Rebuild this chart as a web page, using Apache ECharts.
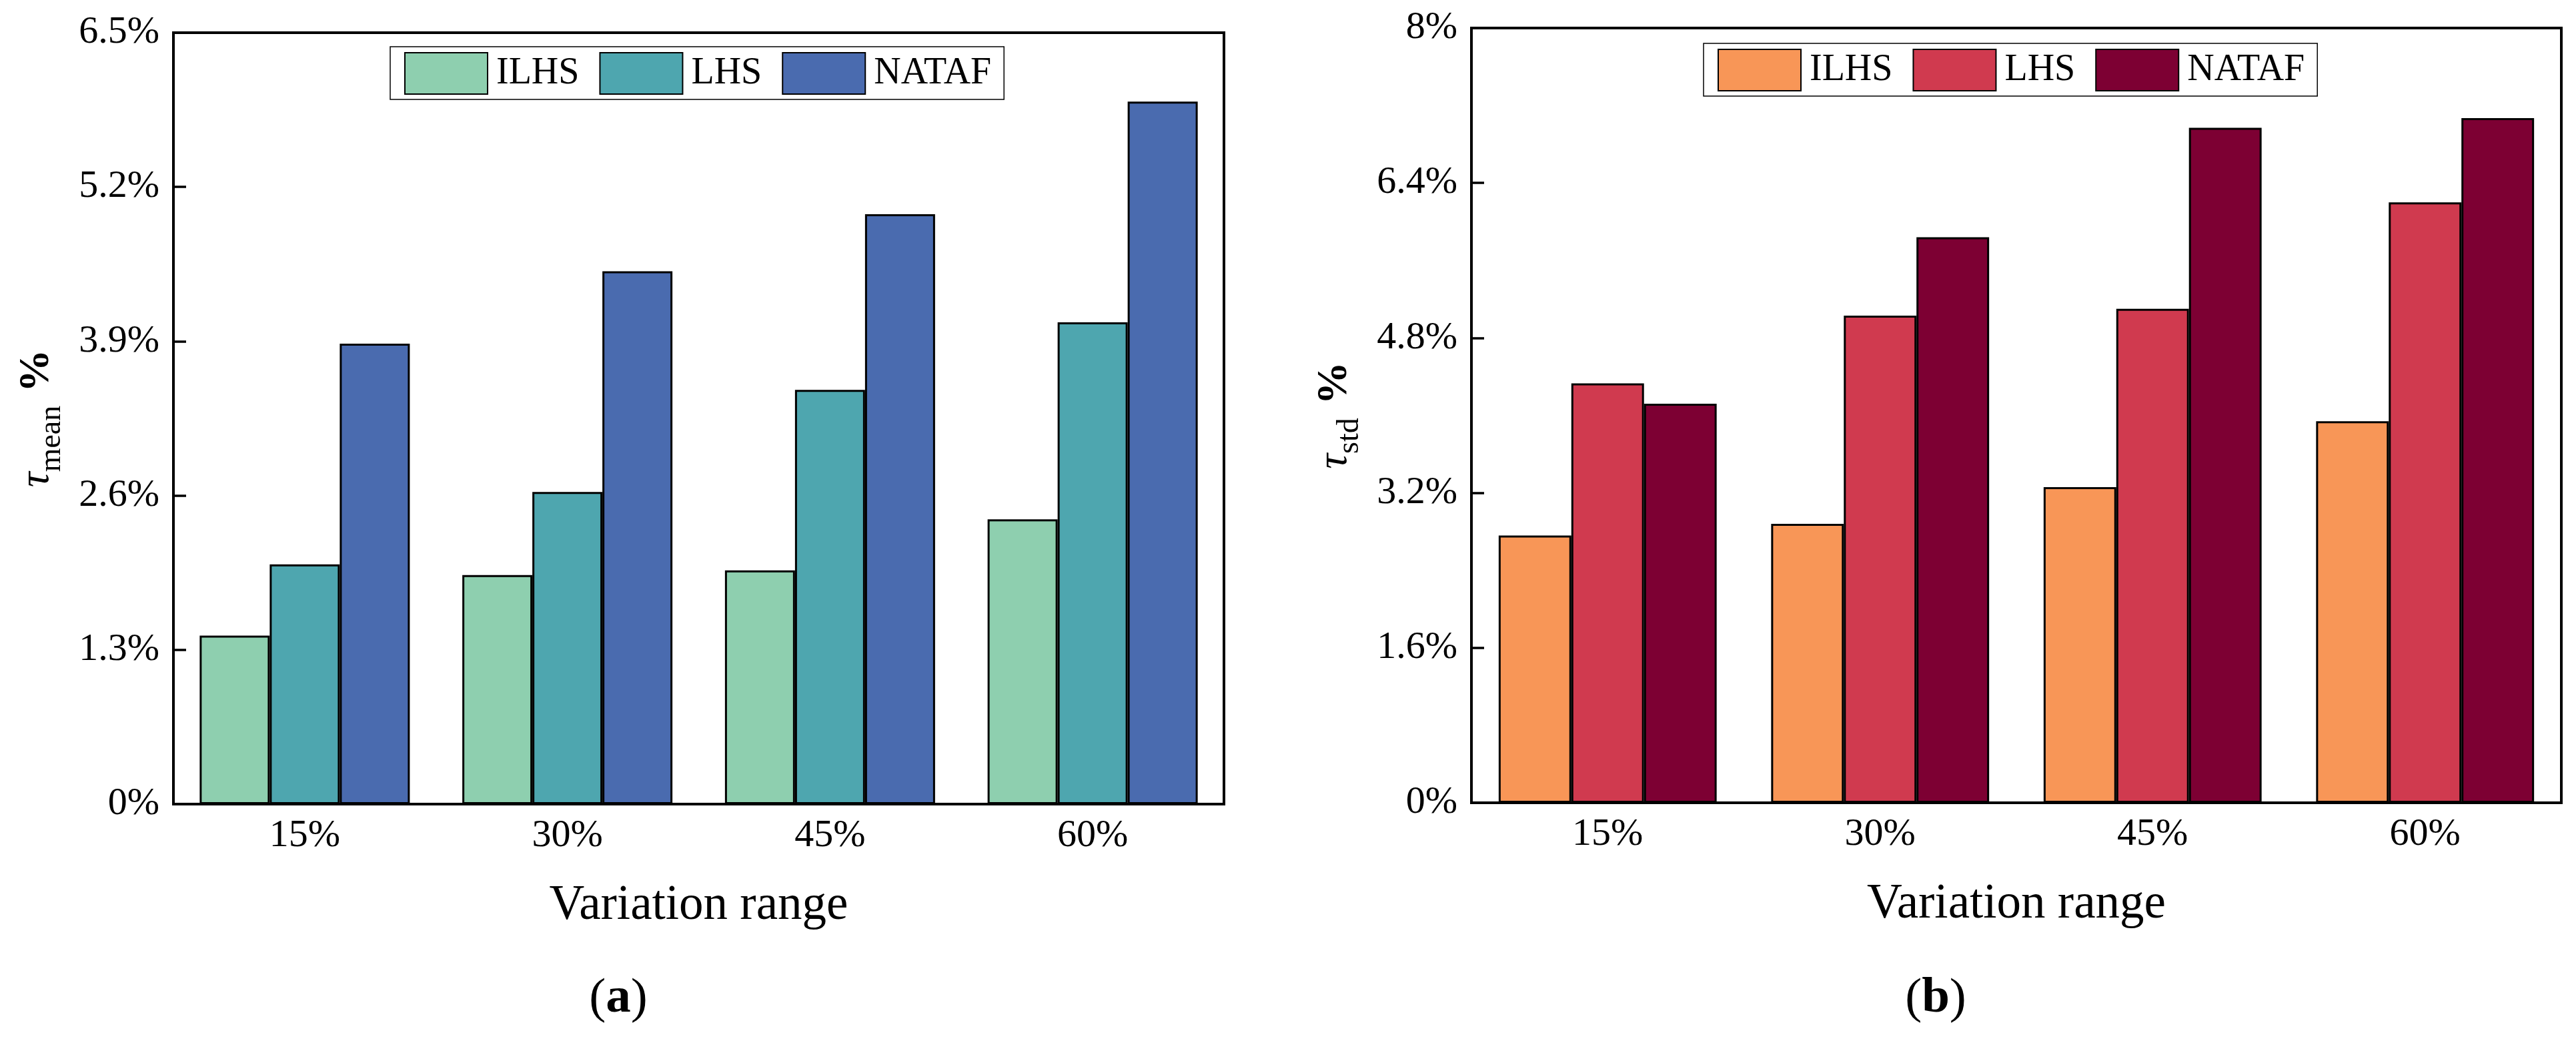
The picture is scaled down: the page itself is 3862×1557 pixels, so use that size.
<!DOCTYPE html>
<html>
<head>
<meta charset="utf-8">
<script src="https://cdn.jsdelivr.net/npm/echarts@6/dist/echarts.min.js"></script>
<style>
html,body{margin:0;padding:0;background:#fff;}
#main{width:3862px;height:1557px;}
</style>
</head>
<body>
<div id="main"></div>
<script>
const categories = ['15%', '30%', '45%', '60%'];
const seriesNames = ['ILHS', 'LHS', 'NATAF'];

// Panel (a): tau_mean (%)
const meanILHS  = [1.42, 1.93, 1.97, 2.40];
const meanLHS   = [2.02, 2.63, 3.49, 4.06];
const meanNATAF = [3.88, 4.49, 4.97, 5.92];
const ticksA = [0, 1.3, 2.6, 3.9, 5.2, 6.5];

// Panel (b): tau_std (%)
const stdILHS  = [2.76, 2.88, 3.26, 3.94];
const stdLHS   = [4.33, 5.03, 5.10, 6.20];
const stdNATAF = [4.12, 5.84, 6.97, 7.07];
const ticksB = [0, 1.6, 3.2, 4.8, 6.4, 8];

const colorsA = ['#8ECFAF', '#4EA6AF', '#4A6BAF'];
const colorsB = ['#F89657', '#D03A4F', '#7D0033'];

const FONT = '"Liberation Serif", "Times New Roman", serif';

function fmt(v) {
  const r = Math.round(v * 10) / 10;
  if (r === 0) return '0%';
  return (Number.isInteger(r) ? String(r) : r.toFixed(1)) + '%';
}

function makeSeries(prefix, arrays, colors, idx) {
  return arrays.map((arr, i) => ({
    name: prefix + '|' + seriesNames[i],
    type: 'bar',
    xAxisIndex: idx,
    yAxisIndex: idx,
    data: arr,
    barGap: '0%',
    barCategoryGap: '20%',
    itemStyle: { color: colors[i], borderColor: '#000', borderWidth: 3 },
    emphasis: { disabled: true }
  }));
}

function xAxisCfg(idx) {
  return {
    type: 'category',
    gridIndex: idx,
    data: categories,
    name: 'Variation range',
    nameLocation: 'middle',
    nameGap: 116,
    nameTextStyle: { fontFamily: FONT, fontSize: 73, color: '#000' },
    axisLine: { show: true, lineStyle: { color: '#000', width: 4 } },
    axisTick: { show: true, inside: true, alignWithLabel: true, length: 19, lineStyle: { color: '#000', width: 2.5 } },
    axisLabel: { fontFamily: FONT, fontSize: 58, color: '#000', margin: 19 },
    splitLine: { show: false }
  };
}

function yAxisCfg(idx, ticks, sub) {
  return {
    type: 'value',
    gridIndex: idx,
    min: ticks[0],
    max: ticks[ticks.length - 1],
    interval: ticks[1] - ticks[0],
    name: '{t|τ}{s|' + sub + '}{p|%}',
    nameLocation: 'middle',
    nameRotate: 90,
    nameGap: 173,
    nameTextStyle: {
      fontFamily: FONT, color: '#000',
      rich: {
        t: { fontFamily: FONT, fontSize: 64, fontStyle: 'italic', lineHeight: 64, verticalAlign: 'top', color: '#000' },
        s: { fontFamily: FONT, fontSize: 46, lineHeight: 46, verticalAlign: 'top', padding: [32, 0, 0, 0], color: '#000' },
        p: { fontFamily: FONT, fontSize: 64, fontWeight: 'bold', lineHeight: 64, verticalAlign: 'top', padding: [0, 0, 0, 20], color: '#000' }
      }
    },
    axisLine: { show: true, lineStyle: { color: '#000', width: 4 } },
    axisTick: { show: true, inside: true, length: 19, lineStyle: { color: '#000', width: 3.5 } },
    axisLabel: { fontFamily: FONT, fontSize: 58, color: '#000', margin: 21, formatter: fmt },
    splitLine: { show: false }
  };
}

function legendCfg(prefix, left, top) {
  return {
    left: left,
    top: top,
    orient: 'horizontal',
    data: seriesNames.map(n => prefix + '|' + n),
    formatter: name => name.split('|')[1],
    icon: 'rect',
    itemWidth: 124,
    itemHeight: 62,
    itemGap: 30,
    padding: [8, 19, 7, 21],
    borderColor: '#000',
    borderWidth: 1.5,
    selectedMode: false,
    textStyle: { fontFamily: FONT, fontSize: 56, color: '#000', padding: [0, 0, 0, 8] }
  };
}

const chart = echarts.init(document.getElementById('main'), null, { renderer: 'canvas' });
chart.setOption({
  backgroundColor: '#fff',
  animation: false,
  grid: [
    { left: 260, right: 2027, top: 49, bottom: 352, show: true, borderColor: '#000', borderWidth: 4, backgroundColor: 'transparent' },
    { left: 2206, right: 22, top: 42, bottom: 354, show: true, borderColor: '#000', borderWidth: 4, backgroundColor: 'transparent' }
  ],
  legend: [legendCfg('a', 585, 70), legendCfg('b', 2554, 65)],
  xAxis: [xAxisCfg(0), xAxisCfg(1)],
  yAxis: [yAxisCfg(0, ticksA, 'mean'), yAxisCfg(1, ticksB, 'std')],
  series: [].concat(
    makeSeries('a', [meanILHS, meanLHS, meanNATAF], colorsA, 0),
    makeSeries('b', [stdILHS, stdLHS, stdNATAF], colorsB, 1)
  ),
  graphic: [
    {
      type: 'text', x: 927, y: 1497,
      style: {
        text: '{n|(}{b|a}{n|)}', align: 'center', verticalAlign: 'middle',
        rich: { n: { fontFamily: FONT, fontSize: 75, fill: '#000' }, b: { fontFamily: FONT, fontSize: 75, fontWeight: 'bold', fill: '#000' } }
      }
    },
    {
      type: 'text', x: 2902, y: 1497,
      style: {
        text: '{n|(}{b|b}{n|)}', align: 'center', verticalAlign: 'middle',
        rich: { n: { fontFamily: FONT, fontSize: 75, fill: '#000' }, b: { fontFamily: FONT, fontSize: 75, fontWeight: 'bold', fill: '#000' } }
      }
    }
  ]
});
</script>
</body>
</html>
